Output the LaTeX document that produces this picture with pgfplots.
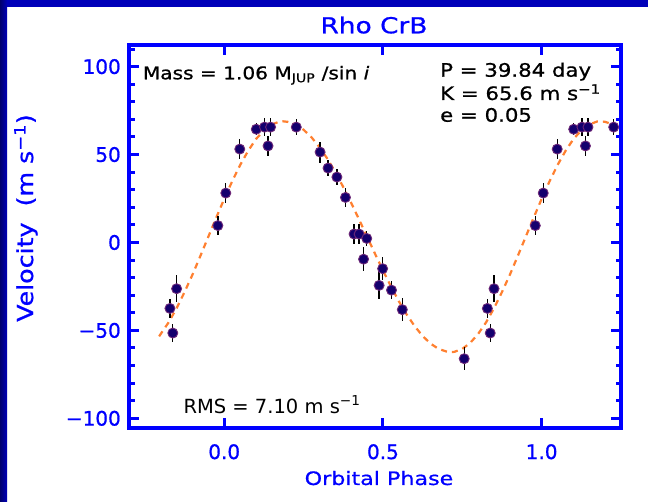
\documentclass[border=0pt]{standalone}
\usepackage{fontspec}
\setmainfont{DejaVu Sans}
\newfontfamily\idl{DejaVu Sans}[FakeStretch=1.2, FakeBold=0.8]
\newfontfamily\idlk{DejaVu Sans}[FakeStretch=1.15, FakeBold=0.8]
\newfontfamily\tickf{DejaVu Sans}[FakeBold=0.8]
\usepackage{pgfplots}
\usepackage{pgfplotstable}
\pgfplotsset{compat=1.18}
\definecolor{idlblue}{RGB}{0,0,255}
\definecolor{navyA}{RGB}{0,0,110}
\definecolor{navyB}{RGB}{0,0,185}
\definecolor{fitorange}{RGB}{255,128,48}
\definecolor{ptfill}{RGB}{20,0,110}
\definecolor{ptedge}{RGB}{110,40,120}

\pgfplotstableread{
x y e
-0.171 -37.5 5.2
-0.162 -51.5 5.2
-0.150 -26.3 7.6
-0.020 9.6 5.2
0.005 28.1 5.5
0.049 53.1 5.9
0.101 64.4 3.5
0.127 65.6 5.0
0.138 54.9 5.5
0.146 65.6 5.0
0.227 65.6 4.5
0.302 51.4 6.0
0.327 42.3 4.5
0.355 37.2 4.5
0.382 25.6 5.2
0.409 4.8 5.5
0.425 4.8 5.5
0.439 -9.5 7.0
0.449 2.3 4.5
0.488 -24.4 8.0
0.499 -14.9 6.4
0.527 -27.1 5.2
0.561 -38.2 6.4
0.756 -66.1 6.6
0.829 -37.5 5.2
0.838 -51.5 5.2
0.850 -26.3 7.6
0.980 9.6 5.2
1.005 28.1 5.5
1.049 53.1 5.9
1.101 64.4 3.5
1.127 65.6 5.0
1.138 54.9 5.5
1.146 65.6 5.0
1.227 65.6 4.5
}\obsdata

\pgfplotstableread{
x y
-0.205 -53.4
-0.200 -52.0
-0.175 -45.4
-0.150 -37.4
-0.125 -28.2
-0.100 -18.3
-0.075 -7.6
-0.050 3.3
-0.025 14.2
0.000 24.8
0.025 34.8
0.050 44.0
0.075 52.0
0.100 58.8
0.125 63.7
0.150 67.1
0.175 68.8
0.185 68.9
0.200 68.6
0.225 67.1
0.250 64.1
0.275 59.8
0.300 54.2
0.325 47.6
0.350 40.0
0.375 31.5
0.400 22.5
0.425 13.0
0.450 3.3
0.475 -6.4
0.500 -15.9
0.525 -24.9
0.550 -33.4
0.575 -41.0
0.600 -47.6
0.625 -53.2
0.650 -57.5
0.675 -60.5
0.700 -62.0
0.715 -62.3
0.725 -62.2
0.750 -60.5
0.775 -57.1
0.800 -52.0
0.825 -45.4
0.850 -37.4
0.875 -28.2
0.900 -18.3
0.925 -7.6
0.950 3.3
0.975 14.2
1.000 24.8
1.025 34.8
1.050 44.0
1.075 52.0
1.100 58.8
1.125 63.7
1.150 67.1
1.175 68.8
1.185 68.9
1.200 68.6
1.225 67.1
1.250 64.1
}\fitdata

\begin{document}
\begin{tikzpicture}[x=1pt,y=1pt]
\fill[white] (0,0) rectangle (648,502);
\fill[navyB] (0,495) rectangle (648,502);
\shade[left color=navyA, right color=navyB] (0,0) rectangle (7,502);
\begin{axis}[
  at={(129pt,74pt)}, anchor=south west,
  scale only axis, width=492pt, height=383pt,
  xmin=-0.3, xmax=1.25, ymin=-105.5, ymax=112.3,
  xtick={0,0.5,1}, xticklabels={0.0,0.5,1.0},
  ytick={-100,-50,0,50,100}, yticklabels={−100,−50,0,50,100},
  minor ytick={-90,-80,-70,-60,-40,-30,-20,-10,10,20,30,40,60,70,80,90,110},
  axis line style={idlblue, line width=3.8pt},
  every tick/.style={idlblue, line width=3pt},
  major tick length=10pt, minor tick length=5.5pt,
  tick align=inside,
  tick label style={text=idlblue, font=\tickf\fontsize{20}{20}\selectfont},
  /pgf/number format/assume math mode=true,
  yticklabel style={anchor=east, inner sep=0pt, xshift=-8pt},
  xticklabel style={anchor=north, inner sep=0pt, yshift=-16pt},
  axis on top,
]
\addplot[fitorange, line width=2.2pt, dash pattern=on 6pt off 5pt] table[x=x,y=y] {\fitdata};
\addplot[only marks, mark=*, mark size=5pt,
  mark options={fill=ptfill, draw=ptedge, line width=0.9pt},
  error bars/.cd, y dir=both, y explicit,
  error bar style={black, line width=1.3pt}, error mark=none]
  table[x=x, y=y, y error=e] {\obsdata};
\end{axis}
\node[anchor=base, font=\idl\fontsize{22}{22}\selectfont, text=idlblue] at (374,468.7) {Rho CrB};
\node[anchor=base, font=\idl\fontsize{18.5}{18.5}\selectfont, text=idlblue] at (379,17) {Orbital Phase};
\node[anchor=base, rotate=90, font=\idlk\fontsize{22}{22}\selectfont, text=idlblue] at (33,284) {Velocity\ \ (m s\textsuperscript{−1})};
\node[anchor=base west, inner sep=0pt, font=\idlk\fontsize{17.5}{17.5}\selectfont] at (142.7,422.7) {Mass = 1.06 M\textsubscript{JUP} /sin \textit{i}};
\node[anchor=base west, inner sep=0pt, font=\idlk\fontsize{18.5}{18.5}\selectfont] at (440,425.3) {P = 39.84 day};
\node[anchor=base west, inner sep=0pt, font=\idlk\fontsize{18.5}{18.5}\selectfont] at (440,402) {K = 65.6 m s\textsuperscript{−1}};
\node[anchor=base west, inner sep=0pt, font=\idlk\fontsize{18.5}{18.5}\selectfont] at (440,380.3) {e = 0.05};
\node[anchor=base west, inner sep=0pt, font=\fontsize{19.5}{19.5}\selectfont] at (183.3,88.7) {RMS = 7.10 m s\textsuperscript{−1}};
\pgfresetboundingbox
\path[use as bounding box] (0,0) rectangle (648,502);
\end{tikzpicture}
\end{document}
